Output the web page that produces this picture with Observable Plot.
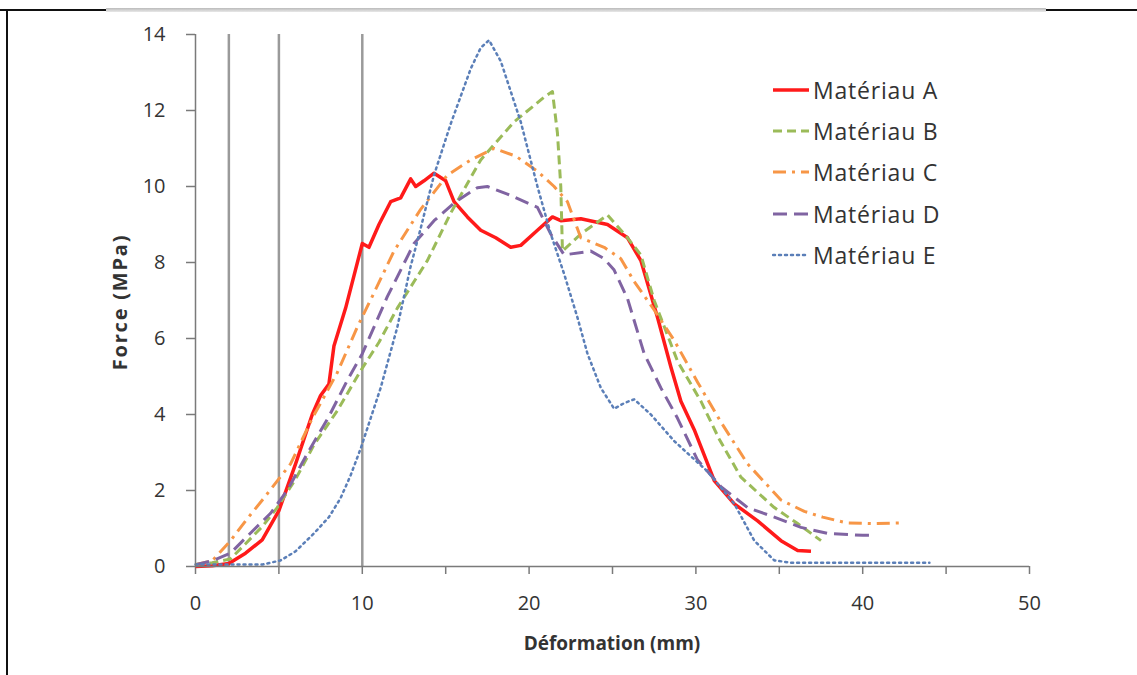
<!DOCTYPE html>
<html>
<head>
<meta charset="utf-8">
<script src="https://cdn.jsdelivr.net/npm/d3@7"></script>
<script src="https://cdn.jsdelivr.net/npm/@observablehq/plot@0.6"></script>
<style>
  html, body { margin: 0; padding: 0; background: #fff; }
  #wrap { position: relative; width: 1137px; height: 675px; overflow: hidden; font-family: "Open Sans", sans-serif; color: #333; }
  #wrap svg.plot { position: absolute; left: 0; top: 0; }
  .deco { position: absolute; }
  .legend { position: absolute; left: 772px; top: 69px; }
  .legend .row { display: flex; align-items: center; height: 41.3px; font-size: 23px; letter-spacing: 0.8px; color: #333; }
  .legend .row svg { margin-right: 3px; }
  .xtitle { position: absolute; left: 0; width: 1224px; top: 630px; text-align: center; font-weight: bold; font-size: 19px; color: #333; }
  .ytitle { position: absolute; left: 119px; top: 302px; transform: translate(-50%, -50%) rotate(-90deg); font-weight: bold; font-size: 20px; letter-spacing: 1.8px; color: #333; white-space: nowrap; }
</style>
</head>
<body>
<div id="wrap"></div>
<script>
// ---------- data ----------
const seriesNames = ["Matériau A", "Matériau B", "Matériau C", "Matériau D", "Matériau E"];
const seriesColors = ["#ff1a1a", "#9bbb59", "#f79646", "#8064a2", "#5b7fb8"];
const seriesDash = [null, "9,5", "13,6,3,6", "14,7", "2,4"];
const seriesWidth = [3.5, 3, 3, 3, 2.5];

const xA = [0,1,2,3,4,5,6,7,7.5,8,8.3,9,10,10.4,11,11.7,12.3,12.9,13.2,13.7,14.3,15,15.5,16.3,17.1,18,18.9,19.5,20.5,21.4,21.9,23.1,24.7,25.9,26.7,27.7,28.5,29.1,29.9,31.1,32.3,33.7,35.1,36.1,36.9];
const yA = [0,0.02,0.08,0.35,0.7,1.47,2.7,4.0,4.5,4.8,5.8,6.8,8.5,8.4,9.0,9.6,9.7,10.2,10.0,10.15,10.35,10.15,9.6,9.2,8.85,8.65,8.4,8.45,8.85,9.2,9.1,9.15,9.0,8.65,8.05,6.55,5.25,4.35,3.6,2.26,1.65,1.2,0.68,0.42,0.4];

const xB = [0,1,2.1,3,4,4.9,6,7.1,8.5,9.9,11,12.1,13.9,15.3,17.1,19.1,20.9,21.4,21.7,21.9,22.0,23.1,24.7,25.9,26.7,27.5,28.9,30.3,31.4,32.7,34.7,36.1,37.5];
const yB = [0.05,0.1,0.2,0.6,1.05,1.55,2.3,3.2,4.1,5.15,5.9,6.8,8.05,9.3,10.7,11.7,12.35,12.5,11.4,10.0,8.3,8.75,9.25,8.65,8.2,7.0,5.4,4.35,3.35,2.35,1.55,1.13,0.68];

const xC = [0,1,2.1,3,4.1,5.7,7,8.5,9.7,10.7,11.9,13.5,15.1,16.5,17.9,19.2,20.5,21.5,22.3,23.1,24.5,25.5,26.3,27.5,28.7,30.1,31.5,33.1,35.1,36.5,37.6,39,40.5,42.5];
const yC = [0.05,0.15,0.68,1.2,1.8,2.7,3.9,5.1,6.3,7.2,8.3,9.4,10.3,10.7,11.0,10.8,10.4,10.0,9.6,8.65,8.4,8.1,7.5,6.75,5.95,4.85,3.8,2.7,1.75,1.45,1.3,1.15,1.13,1.15];

const xD = [0,1,2.1,3,4.5,5.5,6.7,8,9.1,10,11.5,13.1,14.3,15.6,16.9,17.5,18.7,20.5,21.3,22.1,23.7,24.5,25.1,25.9,26.9,27.9,28.9,30.1,31.5,33.1,34.7,36.3,37.9,40,40.6];
const yD = [0.05,0.15,0.35,0.75,1.4,2.0,2.97,3.95,4.9,5.6,7.1,8.5,9.1,9.6,9.97,10.0,9.8,9.45,8.75,8.2,8.3,8.1,7.8,7.05,5.6,4.7,3.9,2.8,2.1,1.55,1.3,1.03,0.87,0.82,0.82];

const xE = [0,2,4,5.1,6,7.1,8,8.7,9.3,9.9,10.5,11.1,12.1,12.9,13.5,14.3,15.3,16.5,17.1,17.6,18.3,19.5,20.5,21.3,22.1,22.9,23.5,24.3,25.1,25.7,26.3,27.3,28.7,30.7,32.3,33.5,34.7,35.7,40,44];
const yE = [0.05,0.05,0.05,0.16,0.4,0.87,1.3,1.8,2.4,3.1,3.9,4.7,6.3,7.9,8.9,10.3,11.65,13.1,13.65,13.85,13.3,11.7,10.0,8.75,7.7,6.55,5.6,4.7,4.15,4.3,4.4,4.0,3.3,2.5,1.65,0.68,0.16,0.1,0.1,0.1];

const xs = [xA, xB, xC, xD, xE];
const ys = [yA, yB, yC, yD, yE];

const vLines = [2, 5, 10];
const xTicks = [0,5,10,15,20,25,30,35,40,45,50];
const xLabelTicks = [0,10,20,30,40,50];
const yTicks = [0,2,4,6,8,10,12,14];
const xTitle = "Déformation (mm)";
const yTitle = "Force (MPa)";

// ---------- build ----------
const rows = seriesNames.map((name, i) => xs[i].map((x, j) => ({series: name, x, y: ys[i][j]})));

const lineMarks = seriesNames.map((name, i) => Plot.line(rows[i], {
  x: "x", y: "y",
  stroke: seriesColors[i],
  strokeWidth: seriesWidth[i],
  strokeDasharray: seriesDash[i],
  strokeLinecap: i === 4 ? "round" : "butt",
  strokeLinejoin: "round",
  curve: "linear"
}));

const chart = Plot.plot({
  width: 1137,
  height: 675,
  marginLeft: 195,
  marginRight: 108,
  marginTop: 34,
  marginBottom: 109,
  x: {domain: [0, 50]},
  y: {domain: [0, 14]},
  style: {fontFamily: "Open Sans, sans-serif", fontSize: "20px", color: "#333", background: "transparent", overflow: "visible"},
  marks: [
    Plot.ruleX(vLines, {stroke: "#9a9a9a", strokeWidth: 2.5}),
    Plot.axisY({ticks: yTicks, tickSize: 9, tickPadding: 21, stroke: "#7a7a7a", strokeWidth: 1.5, label: null}),
    Plot.axisX({ticks: xTicks, tickSize: 8, tickPadding: 21, stroke: "#7a7a7a", strokeWidth: 1.5, label: null,
      tickFormat: d => xLabelTicks.includes(d) ? String(d) : ""}),
    ...lineMarks,
    Plot.ruleX([0], {stroke: "#7a7a7a", strokeWidth: 1.5}),
    Plot.ruleY([0], {stroke: "#7a7a7a", strokeWidth: 1.5})
  ]
});
chart.classList.add("plot");

const wrap = document.getElementById("wrap");

// image frame decorations
function deco(style) {
  const d = document.createElement("div");
  d.className = "deco";
  Object.assign(d.style, style);
  wrap.appendChild(d);
}
wrap.appendChild(chart);
deco({left: "0px", top: "9px", width: "106px", height: "2px", background: "#111"});
deco({left: "106px", top: "8px", width: "940px", height: "4px", background: "linear-gradient(#bbb, #e8e8e8)"});
deco({left: "1046px", top: "9px", width: "91px", height: "2px", background: "#111"});
deco({left: "6px", top: "9px", width: "2px", height: "666px", background: "#111"});

// legend
const legend = document.createElement("div");
legend.className = "legend";
seriesNames.forEach((name, i) => {
  const row = document.createElement("div");
  row.className = "row";
  const s = d3.create("svg").attr("width", 38).attr("height", 10);
  s.append("line").attr("x1", 1).attr("x2", 37).attr("y1", 5).attr("y2", 5)
    .attr("stroke", seriesColors[i]).attr("stroke-width", seriesWidth[i])
    .attr("stroke-dasharray", seriesDash[i])
    .attr("stroke-linecap", i === 4 ? "round" : "butt");
  row.appendChild(s.node());
  const t = document.createElement("span");
  t.textContent = name;
  row.appendChild(t);
  legend.appendChild(row);
});
wrap.appendChild(legend);

const xt = document.createElement("div");
xt.className = "xtitle"; xt.textContent = xTitle;
wrap.appendChild(xt);
const yt = document.createElement("div");
yt.className = "ytitle"; yt.textContent = yTitle;
wrap.appendChild(yt);
</script>
</body>
</html>
